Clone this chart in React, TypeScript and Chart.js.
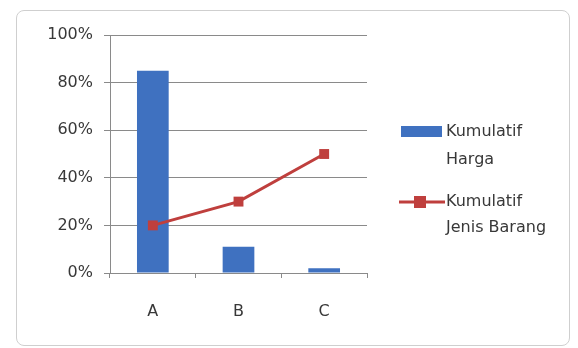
import React, { useEffect, useRef } from "react";
import { Chart, registerables } from "chart.js";

Chart.register(...registerables);

const categories = ["A", "B", "C"];
const hargaValues = [85, 11, 2];
const jenisValues = [20, 30, 50];
const seriesNames = [["Kumulatif", "Harga"], ["Kumulatif", "Jenis Barang"]];
const yTicks = [0, 20, 40, 60, 80, 100];

const BAR_COLOR = "#3f71c0";
const LINE_COLOR = "#bf3f3d";
const TEXT_COLOR = "#383838";
const FONT = "'DejaVu Sans', sans-serif";

const legendPlugin = {
  id: "customLegend",
  afterDraw(chart: any) {
    const ctx = chart.ctx;
    const x0 = chart.chartArea.right + 34;
    const top = chart.chartArea.top;
    ctx.save();
    ctx.font = `16px ${FONT}`;
    ctx.textBaseline = "middle";
    // bar item
    ctx.fillStyle = BAR_COLOR;
    ctx.fillRect(x0, top + 91, 41, 11);
    ctx.fillStyle = TEXT_COLOR;
    ctx.fillText(seriesNames[0][0], x0 + 45, top + 97);
    ctx.fillText(seriesNames[0][1], x0 + 45, top + 125);
    // line item
    const ly = top + 167;
    ctx.strokeStyle = LINE_COLOR;
    ctx.lineWidth = 3;
    ctx.beginPath();
    ctx.moveTo(x0 - 2, ly);
    ctx.lineTo(x0 + 44, ly);
    ctx.stroke();
    ctx.fillStyle = LINE_COLOR;
    ctx.fillRect(x0 + 13, ly - 6, 12, 12);
    ctx.fillStyle = TEXT_COLOR;
    ctx.fillText(seriesNames[1][0], x0 + 45, ly);
    ctx.fillText(seriesNames[1][1], x0 + 45, ly + 26);
    ctx.restore();
  },
};

export default function App() {
  const ref = useRef<HTMLCanvasElement>(null);
  useEffect(() => {
    if (!ref.current) return;
    const chart = new Chart(ref.current, {
      type: "bar",
      data: {
        labels: categories,
        datasets: [
          {
            type: "line",
            label: seriesNames[1].join(" "),
            data: jenisValues,
            borderColor: LINE_COLOR,
            backgroundColor: LINE_COLOR,
            borderWidth: 3,
            pointStyle: "rect",
            pointRadius: 7,
            pointBorderWidth: 0,
            order: 0,
          } as any,
          {
            type: "bar",
            label: seriesNames[0].join(" "),
            data: hargaValues,
            backgroundColor: BAR_COLOR,
            barPercentage: 0.37,
            categoryPercentage: 1,
            order: 1,
          },
        ],
      },
      options: {
        animation: false,
        responsive: false,
        maintainAspectRatio: false,
        layout: { padding: { top: 24, right: 202, left: 0, bottom: 0 } },
        plugins: { legend: { display: false }, tooltip: { enabled: false } },
        scales: {
          x: {
            offset: true,
            grid: {
              offset: true,
              drawOnChartArea: false,
              drawTicks: true,
              tickLength: 5,
              color: "#8a8a8a",
            },
            border: { color: "#8a8a8a", width: 1 },
            ticks: {
              color: TEXT_COLOR,
              font: { family: FONT, size: 16 },
              padding: 24,
            },
            afterFit(scale: any) {
              scale.height = 72;
            },
          },
          y: {
            min: 0,
            max: 100,
            afterBuildTicks(scale: any) {
              scale.ticks = yTicks.map((v) => ({ value: v }));
            },
            grid: {
              color: "#8a8a8a",
              tickLength: 6,
            },
            border: { color: "#8a8a8a", width: 1 },
            ticks: {
              color: TEXT_COLOR,
              font: { family: FONT, size: 16 },
              padding: 11,
              callback: (v: any) => `${v}%`,
            },
            afterFit(scale: any) {
              scale.width = 93;
            },
          },
        },
      },
      plugins: [legendPlugin],
    });
    return () => chart.destroy();
  }, []);
  return (
    <div
      style={{
        position: "fixed",
        left: 16,
        top: 10,
        width: 554,
        height: 336,
        boxSizing: "border-box",
        border: "1px solid #cfcfcf",
        borderRadius: 8,
        background: "#fff",
      }}
    >
      <canvas ref={ref} width={552} height={334} style={{ display: "block" }} />
    </div>
  );
}
